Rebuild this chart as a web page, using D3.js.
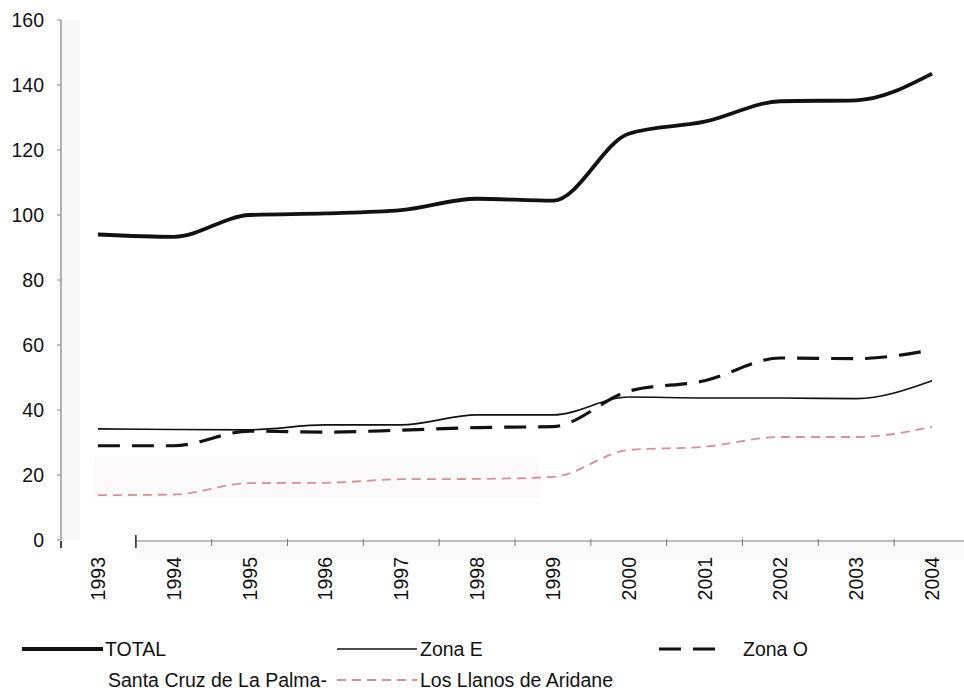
<!DOCTYPE html>
<html>
<head>
<meta charset="utf-8">
<script src="https://cdn.jsdelivr.net/npm/d3@7"></script>
<style>
  html, body { margin: 0; padding: 0; background: #fff; }
  svg text { font-family: "Liberation Sans", Arial, Helvetica, sans-serif; fill: #111; }
</style>
</head>
<body>
<svg id="chart" width="964" height="698"></svg>
<script>
// Years on the category axis
const years = ["1993","1994","1995","1996","1997","1998","1999","2000","2001","2002","2003","2004"];

// Series values per year
const total  = [94, 93.3, 100, 100.5, 101.5, 105, 104.4, 125, 128.7, 135, 135.3, 143.5];
const zonaE  = [34.2, 34, 33.9, 35.4, 35.4, 38.5, 38.5, 44, 43.7, 43.7, 43.5, 49];
const zonaO  = [29, 29, 33.5, 33.2, 33.8, 34.6, 34.9, 45.8, 49, 56, 55.8, 58.5];
const llanos = [13.8, 14, 17.5, 17.6, 18.7, 18.8, 19.4, 27.7, 28.7, 31.7, 31.7, 34.8];

// Value axis ticks
const yTicks = [0, 20, 40, 60, 80, 100, 120, 140, 160];

// Legend entries, in reading order
const legendRow1 = ["TOTAL", "Zona E", "Zona O"];
const legendRow2 = ["Santa Cruz de La Palma-", "Los Llanos de Aridane"];

const styles = {
  "TOTAL":  { stroke: "#111", width: 3.8, dash: null },
  "Zona E": { stroke: "#111", width: 1.7, dash: null },
  "Zona O": { stroke: "#111", width: 3.2, dash: "22,12" },
  "Santa Cruz de La Palma-": { stroke: "none", width: 0, dash: null },
  "Los Llanos de Aridane": { stroke: "#d98f98", width: 1.8, dash: "9,6" }
};

const series = [
  { name: "Los Llanos de Aridane", values: llanos },
  { name: "Zona E", values: zonaE },
  { name: "Zona O", values: zonaO },
  { name: "TOTAL", values: total }
];

const svg = d3.select("#chart");

const x = d3.scaleBand().domain(years).range([60, 970]).paddingInner(0).paddingOuter(0);
const cx = d => x(d) + x.bandwidth() / 2;
const y = d3.scaleLinear().domain([0, 160]).range([540, 20]);

// faint panel tones behind the axes
svg.append("rect")
  .attr("x", 57).attr("y", y(160)).attr("width", 23).attr("height", y(0) - y(160))
  .attr("fill", "#f8f8f8");
svg.append("rect")
  .attr("x", x("1994")).attr("y", y(0)).attr("width", 970 - x("1994")).attr("height", 20)
  .attr("fill", "#f9f9f9");
svg.append("rect")
  .attr("x", cx("1993") - 4).attr("y", y(25.5)).attr("width", cx("1999") - cx("1993") - 10)
  .attr("height", y(13) - y(25.5))
  .attr("fill", "#fcfafa");

// Y axis
const yAxis = svg.append("g").attr("transform", "translate(61,0)");
yAxis.append("line").attr("x1", 0).attr("x2", 0).attr("y1", y(160)).attr("y2", y(0))
  .attr("stroke", "#9a9a9a").attr("stroke-width", 1.5);
yAxis.selectAll("line.tick").data(yTicks).join("line")
  .attr("class", "tick")
  .attr("x1", -4).attr("x2", 0)
  .attr("y1", d => y(d)).attr("y2", d => y(d))
  .attr("stroke", "#888").attr("stroke-width", 1);
yAxis.selectAll("text").data(yTicks).join("text")
  .attr("x", -17).attr("y", d => y(d)).attr("dy", "0.36em")
  .attr("text-anchor", "end").attr("font-size", 19.5)
  .text(d => d);

// X axis: line starts at the first band boundary, ticks at boundaries
const xAxis = svg.append("g");
xAxis.append("line")
  .attr("x1", x("1994")).attr("x2", 964).attr("y1", y(0) + 1).attr("y2", y(0) + 1)
  .attr("stroke", "#a8a8a8").attr("stroke-width", 1.3);
xAxis.selectAll("line.tick").data(years.slice(1)).join("line")
  .attr("class", "tick")
  .attr("x1", d => x(d)).attr("x2", d => x(d))
  .attr("y1", y(0) - 1).attr("y2", y(0) + 6)
  .attr("stroke", "#777").attr("stroke-width", 1);
xAxis.append("line")
  .attr("x1", x("1994")).attr("x2", x("1994")).attr("y1", y(0) - 5).attr("y2", y(0) + 8)
  .attr("stroke", "#444").attr("stroke-width", 1.8);
xAxis.append("line")
  .attr("x1", 61).attr("x2", 61).attr("y1", y(0) + 1).attr("y2", y(0) + 8)
  .attr("stroke", "#333").attr("stroke-width", 1.8);
xAxis.selectAll("text").data(years).join("text")
  .attr("transform", d => `translate(${cx(d) + 7},${y(0) + 17}) rotate(-90)`)
  .attr("text-anchor", "end").attr("font-size", 19.5)
  .text(d => d);

// Lines
const line = d3.line()
  .x((v, i) => cx(years[i]))
  .y(v => y(v))
  .curve(d3.curveMonotoneX);

svg.append("g").selectAll("path").data(series).join("path")
  .attr("d", s => line(s.values))
  .attr("fill", "none")
  .attr("stroke", s => styles[s.name].stroke)
  .attr("stroke-width", s => styles[s.name].width)
  .attr("stroke-dasharray", s => styles[s.name].dash)
  .attr("stroke-linejoin", "round");

// Legend
const legendCols = [{ sx: 22, ex: 103, tx: 105 }, { sx: 337, ex: 417, tx: 420 }, { sx: 659, ex: 720, tx: 743 }];
function legendRow(names, cy) {
  const g = svg.append("g");
  names.forEach((name, i) => {
    const c = legendCols[i];
    const st = styles[name];
    if (st.stroke !== "none") {
      g.append("line")
        .attr("x1", c.sx).attr("x2", c.ex).attr("y1", cy).attr("y2", cy)
        .attr("stroke", st.stroke).attr("stroke-width", Math.max(st.width, 1.6))
        .attr("stroke-dasharray", st.dash);
    }
    g.append("text")
      .attr("x", name === "Santa Cruz de La Palma-" ? 108 : c.tx)
      .attr("y", cy).attr("dy", "0.36em")
      .attr("font-size", 19.5)
      .text(name);
  });
}
legendRow(legendRow1, 649);
legendRow(legendRow2, 680);
</script>
</body>
</html>
